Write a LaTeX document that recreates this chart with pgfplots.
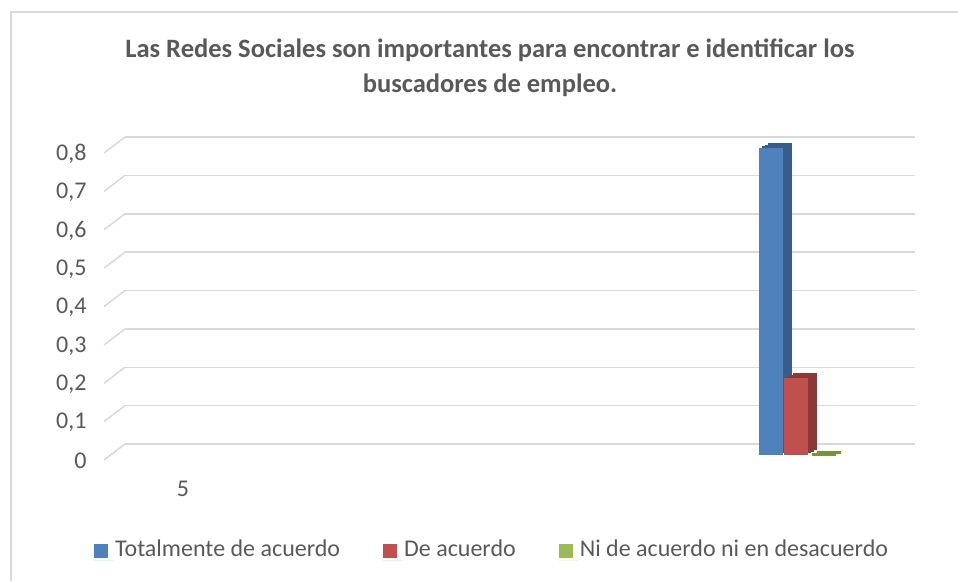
\documentclass[border=0pt]{standalone}
\usepackage{pgfplots}
\pgfplotsset{compat=1.18}
\usepackage{fontspec}
\setmainfont{Carlito}

\definecolor{gridgray}{HTML}{D9D9D9}
\definecolor{txt}{HTML}{595959}
\definecolor{bluef}{HTML}{4F81BD}
\definecolor{blues}{HTML}{385D8A}
\definecolor{redf}{HTML}{C0504D}
\definecolor{reds}{HTML}{8C3836}
\definecolor{greenf}{HTML}{9BBB59}
\definecolor{greens}{HTML}{76923C}

\pgfplotsset{
  sq/.style={legend image code/.code={\fill[##1] (0pt,2pt) rectangle (14pt,16pt); \path (0pt,0pt) -- (19pt,0pt);}},
  bar3d/.style={ybar, bar width=24, bar shift=0pt, draw=none},
}

\begin{document}
\begin{tikzpicture}[x=1pt,y=-1pt]
\useasboundingbox (0,0) rectangle (958,581);
\draw[gridgray, line width=1.5pt] (11,581) -- (11,12) -- (958,12);
\node[txt, font=\fontsize{26.5}{35}\selectfont\bfseries, align=center] at (490,68)
  {Las Redes Sociales son importantes para encontrar e identificar los\\buscadores de empleo.};
\begin{axis}[
  at={(125pt,-444pt)}, anchor=south west,
  scale only axis, width=790pt, height=307pt,
  xmin=125, xmax=915, ymin=0, ymax=0.8,
  clip=false,
  axis line style={draw=none},
  tick style={draw=none},
  ytick={0,0.1,0.2,0.3,0.4,0.5,0.6,0.7,0.8},
  xtick={183}, xticklabels={5},
  ymajorgrids,
  major grid style={gridgray, line width=1.5pt},
  /pgf/number format/.cd, fixed, precision=1, use comma, assume math mode=true, /pgfplots/.cd,
  tick label style={font=\fontsize{24}{28}\selectfont, text=txt},
  yticklabel style={xshift=-35pt, yshift=-17pt},
  xticklabel style={yshift=-34pt},
  legend style={at={(0.4646,-0.342)}, anchor=center, draw=none, fill=none,
    legend columns=3, font=\fontsize{24}{28}\selectfont, text=txt,
    /tikz/every even column/.append style={column sep=41pt}},
]
% side wall edges of the 3-D grid
\addplot[quiver={u=\thisrow{u}, v=\thisrow{v}}, gridgray, line width=1.5pt, no markers, forget plot] table {
x y u v
104 -0.0417 21 0.0417
104 0.0583 21 0.0417
104 0.1583 21 0.0417
104 0.2583 21 0.0417
104 0.3583 21 0.0417
104 0.4583 21 0.0417
104 0.5583 21 0.0417
104 0.6583 21 0.0417
104 0.7583 21 0.0417
};
% depth faces (stacked shifted copies give the oblique side and top)
\addplot[bar3d, fill=blues, xshift=9pt, yshift=-6pt, forget plot] coordinates {(771,0.8)};
\addplot[bar3d, fill=blues, xshift=6pt, yshift=-7.7pt, forget plot] coordinates {(771,0.8)};
\addplot[bar3d, fill=blues, xshift=3pt, yshift=-9.3pt, forget plot] coordinates {(771,0.8)};
\addplot[bar3d, fill=reds, xshift=9pt, yshift=-6pt, forget plot] coordinates {(795.5,0.2)};
\addplot[bar3d, fill=reds, xshift=6pt, yshift=-7.7pt, forget plot] coordinates {(795.5,0.2)};
\addplot[bar3d, fill=reds, xshift=3pt, yshift=-9.3pt, forget plot] coordinates {(795.5,0.2)};
\addplot[bar3d, fill=greens, draw=greens, line width=3pt, xshift=9pt, yshift=-8pt, forget plot] coordinates {(820,0)};
\addplot[bar3d, fill=greens, draw=greens, line width=3pt, xshift=4pt, yshift=-10pt, forget plot] coordinates {(820,0)};
% front faces
\addplot[bar3d, fill=bluef, sq, yshift=-11pt] coordinates {(771,0.8)};
\addlegendentry{Totalmente de acuerdo}
\addplot[bar3d, fill=redf, sq, yshift=-11pt] coordinates {(795.5,0.2)};
\addlegendentry{De acuerdo}
\addplot[bar3d, fill=greenf, sq, yshift=-11pt] coordinates {(820,0)};
\addlegendentry{Ni de acuerdo ni en desacuerdo}
\end{axis}
\end{tikzpicture}
\end{document}
